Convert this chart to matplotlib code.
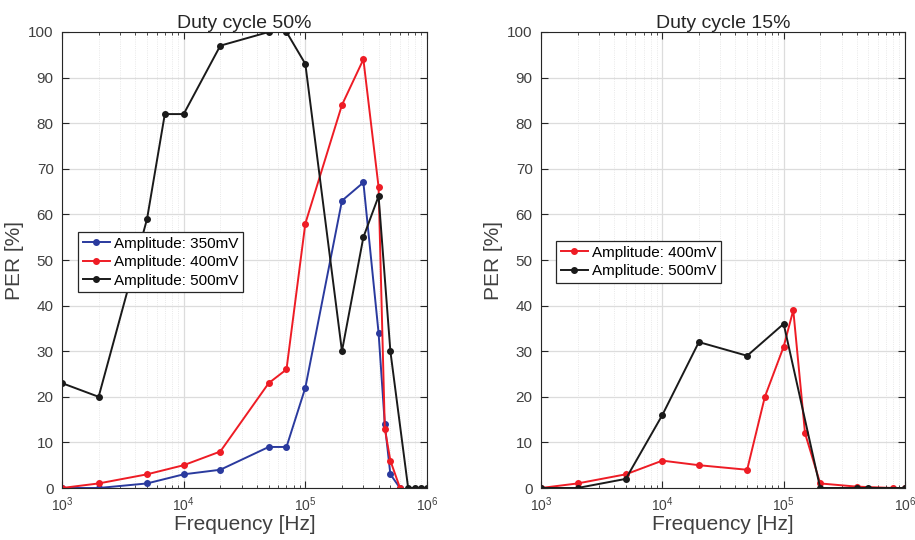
import matplotlib
matplotlib.use("Agg")
import matplotlib.pyplot as plt
from matplotlib.ticker import LogLocator, NullFormatter, FixedLocator

plt.rcParams['font.family'] = ['Liberation Sans', 'DejaVu Sans']

# Duty cycle 50%
freq_350_50 = [1e3, 2e3, 5e3, 1e4, 2e4, 5e4, 7e4, 1e5, 2e5, 3e5, 4e5, 4.5e5, 5e5, 6e5]
per_350_50 = [0, 0, 1, 3, 4, 9, 9, 22, 63, 67, 34, 14, 3, 0]
freq_400_50 = [1e3, 2e3, 5e3, 1e4, 2e4, 5e4, 7e4, 1e5, 2e5, 3e5, 4e5, 4.5e5, 5e5, 6e5]
per_400_50 = [0, 1, 3, 5, 8, 23, 26, 58, 84, 94, 66, 13, 6, 0]
freq_500_50 = [1e3, 2e3, 5e3, 7e3, 1e4, 2e4, 5e4, 7e4, 1e5, 2e5, 3e5, 4e5, 5e5,
               7e5, 8e5, 9e5, 1e6]
per_500_50 = [23, 20, 59, 82, 82, 97, 100, 100, 93, 30, 55, 64, 30, 0, 0, 0, 0]

# Duty cycle 15%
freq_400_15 = [1e3, 2e3, 5e3, 1e4, 2e4, 5e4, 7e4, 1e5, 1.2e5, 1.5e5, 2e5, 4e5, 8e5, 1e6]
per_400_15 = [0, 1, 3, 6, 5, 4, 20, 31, 39, 12, 1, 0.3, 0, 0]
freq_500_15 = [1e3, 2e3, 5e3, 1e4, 2e4, 5e4, 1e5, 2e5, 4e5, 5e5, 1e6]
per_500_15 = [0, 0, 2, 16, 32, 29, 36, 0, 0, 0, 0]

titles = ["Duty cycle 50%", "Duty cycle 15%"]
labels_50 = ["Amplitude: 350mV", "Amplitude: 400mV", "Amplitude: 500mV"]
labels_15 = ["Amplitude: 400mV", "Amplitude: 500mV"]

BLUE = '#2a3a9e'
RED = '#ee1c25'
BLACK = '#1a1a1a'
AXC = '#262626'
TXT = '#404040'

fig = plt.figure(figsize=(9.15, 5.4), dpi=100)
ax1 = fig.add_axes([62/915, 52/540, 365/915, 456/540])
ax2 = fig.add_axes([541/915, 52/540, 364/915, 456/540])

style = dict(marker='o', markersize=4, linewidth=1.4)

ax1.plot(freq_350_50, per_350_50, color=BLUE, label=labels_50[0], **style)
ax1.plot(freq_400_50, per_400_50, color=RED, label=labels_50[1], **style)
ax1.plot(freq_500_50, per_500_50, color=BLACK, label=labels_50[2], **style)

ax2.plot(freq_400_15, per_400_15, color=RED, label=labels_15[0], **style)
ax2.plot(freq_500_15, per_500_15, color=BLACK, label=labels_15[1], **style)

for ax, title in zip([ax1, ax2], titles):
    ax.set_xscale('log')
    ax.set_xlim(1e3, 1e6)
    ax.set_ylim(0, 100)
    ax.yaxis.set_major_locator(FixedLocator(range(0, 101, 10)))
    ax.xaxis.set_major_locator(LogLocator(base=10, numticks=10))
    ax.xaxis.set_minor_locator(LogLocator(base=10, subs=range(2, 10), numticks=20))
    ax.xaxis.set_minor_formatter(NullFormatter())
    ax.grid(True, which='major', color='#dcdcdc', linewidth=0.9)
    ax.grid(True, which='minor', axis='x', color='#e2e2e2', linewidth=0.6, linestyle=':')
    ax.set_axisbelow(True)
    for sp in ax.spines.values():
        sp.set_color(AXC)
        sp.set_linewidth(0.8)
    ax.tick_params(which='both', direction='in', top=True, right=True, colors=AXC,
                   labelcolor=TXT)
    ax.tick_params(axis='y', labelsize=11, pad=6)
    ax.tick_params(axis='x', labelsize=10, pad=5)
    ax.tick_params(which='major', length=5)
    ax.tick_params(which='minor', length=2.5)
    ax.set_title(title, fontsize=14, color=AXC, pad=3)
    ax.set_xlabel("Frequency [Hz]", fontsize=15, color=TXT, labelpad=1)
    ax.set_ylabel("PER [%]", fontsize=15, color=TXT, labelpad=3)

leg_kw = dict(fontsize=11, frameon=True, fancybox=False, borderpad=0.3,
              handlelength=1.8, handletextpad=0.25, labelspacing=0.3,
              borderaxespad=0.0)
leg1 = ax1.legend(loc='upper left', bbox_to_anchor=((78-62)/365, (488-232)/456), **leg_kw)
leg2 = ax2.legend(loc='upper left', bbox_to_anchor=((556-541)/364, (488-241)/456), **leg_kw)
for leg in (leg1, leg2):
    fr = leg.get_frame()
    fr.set_edgecolor(AXC)
    fr.set_linewidth(0.9)
    fr.set_alpha(1)

fig.savefig("out.png", dpi=100)
